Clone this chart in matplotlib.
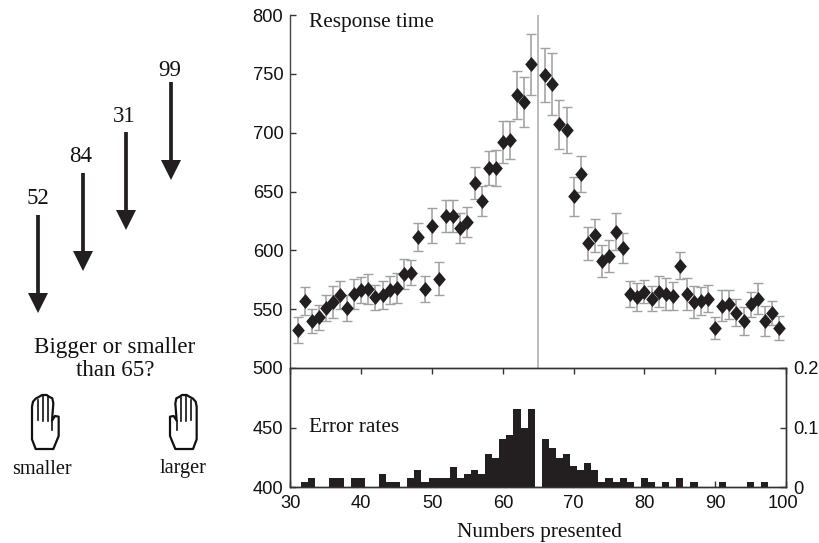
import matplotlib
matplotlib.use("Agg")
import matplotlib.pyplot as plt
import matplotlib.transforms as mtrans
from matplotlib.path import Path
from matplotlib.patches import Polygon

numbers = [31,32,33,34,35,36,37,38,39,40,41,42,43,44,45,46,47,48,49,50,51,52,53,54,55,56,57,58,59,60,61,62,63,64,
           66,67,68,69,70,71,72,73,74,75,76,77,78,79,80,81,82,83,84,85,86,87,88,89,90,91,92,93,94,95,96,97,98,99]
response = [532,557,540,543,551,556,562,551,563,566,567,560,562,566,568,580,581,611,567,621,576,629,629,619,624,657,642,
            670,670,692,694,732,726,758,749,741,707,702,646,665,606,613,591,595,616,602,563,560,565,559,565,563,561,587,
            563,556,557,559,534,553,554,547,540,554,559,540,547,534]
errors = [11,12,10,10.5,11,13.4,11.7,11.3,12.9,11,13,10.7,11.9,11.9,12.4,13,10.7,11.9,11.3,14.8,14,13.5,13.5,12.4,13,13.4,12.7,
          14.7,15.3,18,16.2,20.6,21.6,25.8,23,26.4,21,19.4,16.7,15.3,14,14,13.7,13.6,16,12.9,11.3,11.9,9.6,10.7,13,13.5,11.9,11.7,
          13.5,13.4,11.7,11.3,9.5,13.4,12.3,11.7,12.1,10.6,13.4,12.9,10.2,10]
err_numbers = [31,32,33,34,35,36,37,38,39,40,41,42,43,44,45,46,47,48,49,50,51,52,53,54,55,56,57,58,59,60,61,62,63,64,65,
               66,67,68,69,70,71,72,73,74,75,76,77,78,79,80,81,82,83,84,85,86,87,88,89,90,91,92,93,94,95,96,97,98,99]
err_rates = [0,0.008,0.015,0,0,0.015,0.015,0,0.015,0.015,0,0,0.022,0.008,0.008,0,0.015,0.029,0.008,0.015,0.015,0.015,0.034,
             0.015,0.022,0.029,0.022,0.055,0.048,0.08,0.0875,0.131,0.099,0.131,0,
             0.08,0.066,0.048,0.055,0.036,0.029,0.041,0.029,0.008,0.015,0.008,0.015,0.008,0,0.015,0.008,0,0.008,0,0.015,0,
             0.008,0,0,0,0.008,0,0,0,0.008,0,0.008,0,0]
x_ticks = [30,40,50,60,70,80,90,100]
top_ticks = [500,550,600,650,700,750,800]
bot_ticks = [400,450]
rate_ticks = [0,0.1,0.2]
rate_labels = ["0","0.1","0.2"]
task_numbers = ["52","84","31","99"]

W, H = 820, 543
DARK = "#231f20"
AXC = "#333333"
GREY = "#a0a0a0"
SANS = "Liberation Sans"
SERIF = "Liberation Serif"

fig = plt.figure(figsize=(W/100, H/100), dpi=100, facecolor="white")
L, R, T, M, B = 290.5, 786, 15, 368, 487
ax = fig.add_axes([L/W, 1-M/H, (R-L)/W, (M-T)/H])
axb = fig.add_axes([L/W, 1-B/H, (R-L)/W, (B-M)/H])
axr = axb.twinx()

diamond = Path([(0,1),(0.84,0),(0,-1),(-0.84,0),(0,1)], closed=True)

ax.axvline(65, color="#a8a8a8", lw=1.1, zorder=1)
ax.errorbar(numbers, response, yerr=errors, fmt="none", ecolor=GREY, elinewidth=1.15,
            capsize=3.8, capthick=1.0, zorder=2)
ax.plot(numbers, response, ls="none", marker=diamond, ms=10.8, color=DARK, mec=DARK, mew=0, zorder=3)
ax.set_xlim(30, 100)
ax.set_ylim(500, 800)
ax.set_yticks(top_ticks)
ax.set_xticks([])
for s in ("top", "right", "bottom"):
    ax.spines[s].set_visible(False)
ax.spines["left"].set_color("#444444")
ax.spines["left"].set_linewidth(1.0)

axb.set_xlim(30, 100)
axb.set_ylim(400, 500)
axb.set_yticks(bot_ticks)
axb.set_xticks(x_ticks)
axb.tick_params(axis="x", which="both", top=True, bottom=True)

axr.bar(err_numbers, err_rates, width=1.0, color=DARK, linewidth=0, zorder=2)
axr.set_ylim(0, 0.2)
axr.set_yticks(rate_ticks)
axr.set_yticklabels(rate_labels)

for a in (ax, axb, axr):
    a.tick_params(direction="in", length=4.3, width=1.0, color=AXC, labelsize=13.2, pad=5.2, labelcolor="#111111")
    for lab in a.get_xticklabels() + a.get_yticklabels():
        lab.set_fontfamily(SANS)
for a in (axb, axr):
    for s in a.spines.values():
        s.set_color(AXC)
        s.set_linewidth(1.0)
axb.tick_params(axis="x", pad=5.6)
axr.tick_params(axis="y", pad=5.4)
# the reference sets the last x label a little left of its tick
last = axb.get_xticklabels()[-1]
last.set_transform(last.get_transform() + mtrans.ScaledTranslation(-3/100, 0, fig.dpi_scale_trans))

# overlay in pixel coordinates for the task illustration and annotations
ov = fig.add_axes([0, 0, 1, 1], facecolor="none")
ov.set_xlim(0, W)
ov.set_ylim(H, 0)
ov.axis("off")

def serif(x, y, s, ha="center", size=15.3):
    ov.text(x, y, s, ha=ha, va="center", family=SERIF, fontsize=size, color="#111111")

serif(309, 22, "Response time", ha="left")
serif(309, 427, "Error rates", ha="left")
serif(539, 532, "Numbers presented")

arrow_pos = [(38, 215), (83, 173), (126, 132), (171, 82)]
label_pos = [(38, 198), (81, 156), (124, 116), (170, 70)]
for (x, y), (lx, ly), s in zip(arrow_pos, label_pos, task_numbers):
    ov.plot([x, x], [y, y+80], color=DARK, lw=2.7, solid_capstyle="butt")
    ov.add_patch(Polygon([(x-10, y+78), (x+10, y+78), (x, y+98)], closed=True, fc=DARK, ec="none"))
    serif(lx, ly, s, size=16.5)

serif(115, 347, "Bigger or smaller", size=16.6)
serif(115, 370, "than 65?", size=16.6)
serif(42, 470, "smaller", size=14.6)
serif(183, 469, "larger", size=14.6)

outline = [(107,207),(160,207),(176,168),(176,110),(165,108),(156,122),(160,70),(157,55),(147,50),(140,45),
           (126,45),(118,50),(107,56),(99,65),(96,80),(96,178)]
inner = [[(113,60),(113,120)], [(128,48),(128,122)], [(143,50),(143,122)], [(156,122),(156,150)]]
def hand(mirror):
    fx = (lambda X: (686-X)/3) if mirror else (lambda X: X/3)
    fy = lambda Y: 380+Y/3
    ov.add_patch(Polygon([(fx(X), fy(Y)) for X, Y in outline], closed=True, fc="white", ec="#111111", lw=1.6, joinstyle="round"))
    for seg in inner:
        ov.plot([fx(p[0]) for p in seg], [fy(p[1]) for p in seg], color="#111111", lw=1.2)
hand(False)
hand(True)

fig.savefig("out.png", dpi=100)
